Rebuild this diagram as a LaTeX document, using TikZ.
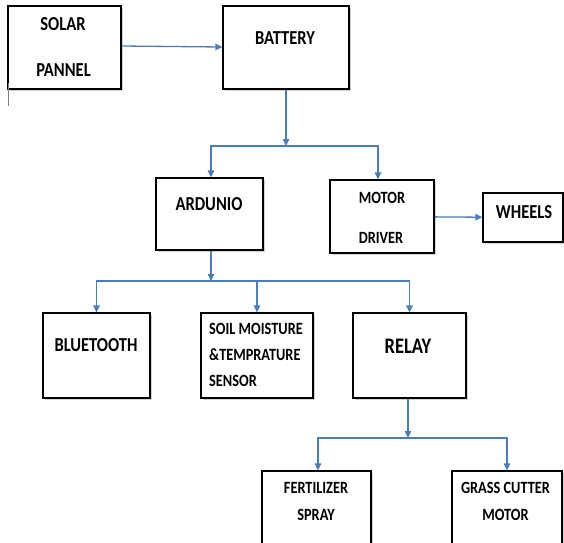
\documentclass[tikz,border=0pt]{standalone}
\usepackage{fontspec}
\usepackage{graphicx}
\setmainfont{Carlito}
\usetikzlibrary{arrows.meta,shadows}
\definecolor{conn}{RGB}{74,126,187}
\newcommand{\tallt}[1]{\scalebox{1}[1.2]{#1}}
\begin{document}
\begin{tikzpicture}[x=1pt,y=-1pt,
  box/.style={draw=black,line width=1.2pt,fill=white,inner sep=0pt,
    drop shadow={shadow xshift=1.5pt,shadow yshift=-1.5pt,fill=gray,opacity=0.35}},
  arr/.style={draw=conn,line width=1.3pt,-{Triangle[length=7pt,width=6.5pt]}},
  big/.style={font=\fontsize{16.5}{18}\selectfont\bfseries,inner sep=0pt},
  small/.style={font=\fontsize{14.3}{16}\selectfont\bfseries,inner sep=0pt},
  huge/.style={font=\fontsize{18.5}{20}\selectfont\bfseries,inner sep=0pt}]
\useasboundingbox (0,0) rectangle (564,542);
\clip (0,0) rectangle (564,542);
% boxes
\node[box,minimum width=113pt,minimum height=83pt] (solar) at (64.5,47.5) {};
\node[box,minimum width=126pt,minimum height=83pt] (battery) at (286,47.5) {};
\node[box,minimum width=107pt,minimum height=72pt] (ardunio) at (209.5,214) {};
\node[box,minimum width=104pt,minimum height=73pt] (motor) at (382,216.5) {};
\node[box,minimum width=80pt,minimum height=49pt] (wheels) at (523,217.5) {};
\node[box,minimum width=107pt,minimum height=85pt] (bluetooth) at (96.5,355.5) {};
\node[box,minimum width=112pt,minimum height=85pt] (soil) at (257,355.5) {};
\node[box,minimum width=113pt,minimum height=85pt] (relay) at (409.5,355.5) {};
\node[box,minimum width=109pt,minimum height=90pt] (fert) at (316.5,516) {};
\node[box,minimum width=110pt,minimum height=90pt] (grass) at (507,516) {};
% labels
\node[big] (tsolar1) at (63,24) {\tallt{SOLAR}};
\node[big] (tsolar2) at (63.5,70) {\tallt{PANNEL}};
\node[big] (tbat) at (285,38) {\tallt{BATTERY}};
\node[big] (tard) at (209,204) {\tallt{ARDUNIO}};
\node[small] (tmot1) at (382,198) {\tallt{MOTOR}};
\node[small] (tmot2) at (381,237.5) {\tallt{DRIVER}};
\node[big] (twhe) at (524,212) {\tallt{WHEELS}};
\node[big] (tblu) at (96,345) {\tallt{BLUETOOTH}};
\node[small,anchor=west] (tsoil1) at (209,329) {\tallt{SOIL MOISTURE}};
\node[small,anchor=west] (tsoil2) at (209,355) {\tallt{\&TEMPRATURE}};
\node[small,anchor=west] (tsoil3) at (209,381) {\tallt{SENSOR}};
\node[huge] (trel) at (408,346) {\tallt{RELAY}};
\node[small] (tfer1) at (316,488) {\tallt{FERTILIZER}};
\node[small] (tfer2) at (316,514.5) {\tallt{SPRAY}};
\node[small] (tgra1) at (505.5,488) {\tallt{GRASS CUTTER}};
\node[small] (tgra2) at (505.5,514.5) {\tallt{MOTOR}};
% stray mark
\coordinate (m1) at (8,83);
\coordinate (m2) at (8,106);
\draw[gray,line width=0.8pt] (m1) -- (m2);
% connectors
\coordinate (j1) at (286,146);
\coordinate (j2) at (211,281);
\coordinate (j3) at (408,438);
\draw[arr] ([yshift=1.5pt]solar.east) -- ([yshift=0.5pt]battery.west);
\draw[arr] (battery.south) -- (j1);
\draw[arr] (j1) -| ([xshift=1.5pt]ardunio.north);
\draw[arr] (j1) -| ([xshift=-4pt]motor.north);
\draw[arr] (motor) -- (wheels);
\draw[arr] ([xshift=1.5pt]ardunio.south) -- (j2);
\draw[arr] (j2) -| (bluetooth.north);
\draw[arr] (j2) -| (soil.north);
\draw[arr] (j2) -| (relay.north);
\draw[arr] ([xshift=-1.5pt]relay.south) -- (j3);
\draw[arr] (j3) -| ([xshift=1.5pt]fert.north);
\draw[arr] (j3) -| (grass.north);
\end{tikzpicture}
\end{document}
